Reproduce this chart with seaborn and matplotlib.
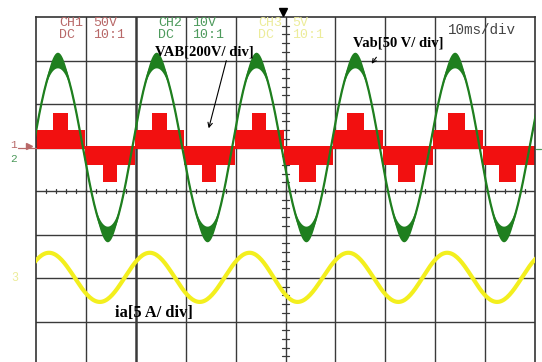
import numpy as np
import pandas as pd
import matplotlib
matplotlib.use("Agg")
import matplotlib.pyplot as plt
import seaborn as sns

# ---------------- data ----------------
# time in ms (10 ms/div, 10 divisions), amplitude in screen divisions (0 = centre line)
# CH2 (green) VAB: times / levels of the peaks and troughs
green_ext_t = [-5.6, 4.4, 14.4, 24.2, 34.4, 44.2, 54.2, 64.0, 73.8, 84.0, 93.8, 104.0]
green_ext_v = [-1.0, 3.0, -1.0, 3.0, -1.0, 3.0, -1.0, 3.0, -1.0, 3.0, -1.0, 3.0]
# CH3 (yellow) ia: times / levels of the peaks and troughs
yellow_ext_t = [-7.4, 2.6, 12.8, 22.8, 32.8, 42.8, 52.4, 62.6, 72.6, 82.4, 92.4, 102.4]
yellow_ext_v = [-2.55, -1.42, -2.55, -1.42, -2.55, -1.42, -2.55, -1.42, -2.55, -1.42, -2.55, -1.42]
# CH1 (red) Vab multilevel staircase: switching instants and level index
red_edge_t = [0, 3.4, 6.4, 9.8, 13.4, 16.2, 19.8, 23.2, 26.2, 29.6, 33.2, 36.0,
              39.8, 43.2, 46.0, 49.6, 52.8, 56.2, 59.6, 62.4, 65.8, 69.6, 72.6, 76.0,
              79.6, 82.6, 86.0, 89.6, 92.8, 96.2, 100]
red_level = [1, 2, 1, -1, -2, -1, 1, 2, 1, -1, -2, -1, 1, 2, 1, -1, -2, -1,
             1, 2, 1, -1, -2, -1, 1, 2, 1, -1, -2, -1]
red_zero = 1.0      # channel 1 ground marker (div)
red_step = 0.40     # height of one level (div)

ch_names = ["CH1\nDC", "CH2\nDC", "CH3\nDC"]
ch_scales = ["50V\n10:1", "10V\n10:1", "5V\n10:1"]
timebase_label = "10ms/div"
label_VAB = "VAB[200V/ div]"
label_Vab = "Vab[50 V/ div]"
label_ia = "ia[5 A/ div]"

# ---------------- helpers ----------------
W, H = 542, 362
def fx(p):
    return p / W
def fy(p):
    return 1 - p / H

def trace(ext_t, ext_v, n=40):
    ts, vs = [], []
    for i in range(len(ext_t) - 1):
        t0, t1, v0, v1 = ext_t[i], ext_t[i + 1], ext_v[i], ext_v[i + 1]
        tt = np.linspace(t0, t1, n, endpoint=False)
        vv = v0 + (v1 - v0) * (1 - np.cos(np.pi * (tt - t0) / (t1 - t0))) / 2
        ts.append(tt); vs.append(vv)
    ts.append([ext_t[-1]]); vs.append([ext_v[-1]])
    return pd.DataFrame({"t": np.concatenate(ts), "v": np.concatenate(vs)})

sns.set_style("white")
plt.rcParams["font.family"] = ["DejaVu Sans"]

fig = plt.figure(figsize=(W / 100, H / 100), dpi=100)
fig.patch.set_facecolor("white")
ax = fig.add_axes([fx(36), fy(365), fx(535) - fx(36), fy(17) - fy(365)])
ax.set_xlim(0, 100)
ax.set_ylim(-4, 4)
ax.set_xticks([]); ax.set_yticks([])
for s in ax.spines.values():
    s.set_color("#333333"); s.set_linewidth(1.2)

gc = "#3a3a3a"
for k in range(1, 10):
    ax.axvline(k * 10, color=gc, lw=1.8 if k == 2 else 1.0, zorder=1)
for k in range(-3, 4):
    ax.axhline(k, color=gc, lw=1.0, zorder=1)
# centre-axis ticks
for k in range(1, 50):
    ax.plot([k * 2, k * 2], [-0.05, 0.05], color=gc, lw=0.9, zorder=1)
for k in range(-19, 20):
    ax.plot([49.3, 50.7], [k * 0.2, k * 0.2], color=gc, lw=0.9, zorder=1)

# red staircase (band reaches slightly past the ground level, as on the scope)
lv = np.array(red_level + [red_level[-1]], dtype=float)
red_y = red_zero + red_step * lv
red_base = red_zero - 0.045 * np.sign(lv)
ax.fill_between(red_edge_t, red_base, red_y, step="post", color="#f21010", lw=0, zorder=2)

# green trace with a noisy-looking thick band near the peaks
g = trace(green_ext_t, green_ext_v)
norm = np.abs(g["v"] - 1.0) / 2.0
w = 0.05 + 0.13 * np.clip((norm - 0.72) / 0.28, 0, 1) ** 1.5
ax.fill_between(g["t"], g["v"] - w, g["v"] + w, color="#1f7f1f", lw=0, zorder=3)
sns.lineplot(data=g, x="t", y="v", ax=ax, color="#1f7f1f", linewidth=1.6,
             estimator=None, sort=False, legend=False, zorder=3)

# yellow trace
yv = trace(yellow_ext_t, yellow_ext_v)
sns.lineplot(data=yv, x="t", y="v", ax=ax, color="#f3ef1e", linewidth=3.0,
             estimator=None, sort=False, legend=False, zorder=3)
ax.set_xlabel(""); ax.set_ylabel("")
ax.set_xlim(0, 100); ax.set_ylim(-4, 4)

# ---------------- texts ----------------
mono = "Liberation Mono"
ch_colors = ["#b86868", "#4d9a5c", "#ecec9a"]
ch_x = [59, 158, 258]
for nm, sc, col, x0 in zip(ch_names, ch_scales, ch_colors, ch_x):
    fig.text(fx(x0), fy(37.5), nm, family=mono, fontsize=9.5, color=col,
             va="baseline", linespacing=1.0)
    fig.text(fx(x0 + 34), fy(37.5), sc, family=mono, fontsize=9.5, color=col,
             va="baseline", linespacing=1.0)
fig.text(fx(448), fy(33.5), timebase_label, family=mono, fontsize=10.3, color="#444444")

serif = "Liberation Serif"
fig.text(fx(155), fy(55.5), label_VAB, family=serif, fontweight="bold", fontsize=10.5, color="black")
fig.text(fx(353), fy(46.5), label_Vab, family=serif, fontweight="bold", fontsize=10.5, color="black")
fig.text(fx(115), fy(317), label_ia, family=serif, fontweight="bold", fontsize=11.8, color="black")

ax.annotate("", xy=(fx(208), fy(131)), xytext=(fx(227), fy(58)), xycoords="figure fraction",
            textcoords="figure fraction",
            arrowprops=dict(arrowstyle="->", lw=0.8, color="black", mutation_scale=8))
ax.annotate("", xy=(fx(370), fy(66)), xytext=(fx(378), fy(55)), xycoords="figure fraction",
            textcoords="figure fraction",
            arrowprops=dict(arrowstyle="->", lw=0.8, color="black", mutation_scale=7))

# channel markers
fig.text(fx(10), fy(148), "1", family=mono, fontsize=8, color="#b86868", va="baseline")
fig.text(fx(10), fy(161.5), "2", family=mono, fontsize=8, color="#4d9a5c", va="baseline")
fig.text(fx(11), fy(281), "3", family=mono, fontsize=8.5, color="#ecec9a", va="baseline")
fig.add_artist(plt.Line2D([fx(18), fx(36)], [fy(147.5), fy(147.5)], color="#b86868", lw=0.9))
fig.add_artist(plt.Line2D([fx(29)], [fy(146)], marker=">", markersize=4, color="#b86868", lw=0))
fig.add_artist(plt.Line2D([fx(536), fx(541)], [fy(149), fy(149)], color="#4d9a5c", lw=0.9))
# trigger position marker
fig.add_artist(plt.Line2D([fx(283)], [fy(12)], marker="v", markersize=6, color="black", lw=0))

fig.savefig("out.png", dpi=100, facecolor="white")
